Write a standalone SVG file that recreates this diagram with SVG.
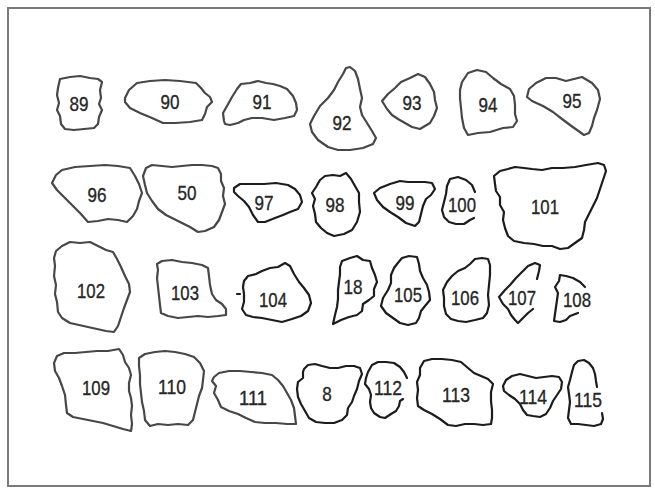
<svg xmlns="http://www.w3.org/2000/svg" width="655" height="489" viewBox="0 0 655 489">
<style>
.g path{fill:none;stroke:#474747;stroke-width:2.2;stroke-linejoin:round;stroke-linecap:round}
.k path{fill:none;stroke:#1c1c1c;stroke-width:2.2;stroke-linejoin:round;stroke-linecap:round}
text{font-family:"Liberation Sans",Arial,sans-serif;font-size:21px;fill:#262626;stroke:#262626;stroke-width:0.35;text-anchor:middle}
</style>
<rect x="8" y="8" width="642" height="478" fill="#fff" stroke="#7a7a7a" stroke-width="2"/>
<g id="s89" class="g"><path d="M60,79 L70,77 L80,76 L90,78 L98,79 L102,82 L100,90 L101,98 L99,104 L102,110 L99,117 L98,124 L94,128 L84,129 L74,130 L65,129 L61,124 L60,116 L57,110 L59,103 L57,95 L58,88 Z"/><text x="79" y="111" textLength="19" lengthAdjust="spacingAndGlyphs">89</text></g>
<g id="s90" class="g"><path d="M125,98 L129,90 L137,83 L150,81 L165,80 L180,81 L196,83 L201,88 L205,93 L210,97 L212,102 L207,107 L205,114 L202,120 L190,122 L175,123 L163,123 L152,118 L140,113 L130,108 L125,102 Z"/><text x="170" y="109" textLength="19" lengthAdjust="spacingAndGlyphs">90</text></g>
<g id="s91" class="g"><path d="M224,121 L223,113 L227,106 L232,97 L237,89 L241,84 L250,83 L258,81 L266,83 L273,84 L280,86 L287,89 L293,96 L296,103 L297,110 L294,116 L285,118 L274,120 L262,118 L252,118 L244,120 L238,123 L230,125 L225,124 Z"/><text x="262" y="109" textLength="19" lengthAdjust="spacingAndGlyphs">91</text></g>
<g id="s92" class="g"><path d="M350,67 L355,71 L358,79 L360,89 L362,98 L360,107 L362,115 L367,123 L372,131 L376,138 L373,144 L363,148 L350,150 L338,150 L328,147 L318,140 L312,132 L310,124 L314,116 L320,106 L328,98 L334,90 L338,82 L343,74 L346,68 Z"/><text x="342" y="130" textLength="19" lengthAdjust="spacingAndGlyphs">92</text></g>
<g id="s93" class="g"><path d="M382,101 L388,94 L395,88 L401,82 L410,78 L418,74 L425,77 L430,84 L434,92 L435,100 L437,108 L434,116 L430,123 L420,129 L412,127 L405,123 L398,119 L392,115 L387,109 Z"/><text x="412" y="110" textLength="19" lengthAdjust="spacingAndGlyphs">93</text></g>
<g id="s94" class="g"><path d="M462,82 L468,73 L477,70 L486,72 L493,78 L501,84 L510,89 L514,96 L515,105 L515,114 L517,121 L513,127 L503,128 L490,132 L478,133 L468,135 L464,128 L462,118 L461,108 L460,98 L460,90 Z"/><text x="488" y="112" textLength="19" lengthAdjust="spacingAndGlyphs">94</text></g>
<g id="s95" class="g"><path d="M527,97 L529,89 L536,83 L546,78 L556,78 L566,81 L574,79 L582,77 L592,83 L598,90 L600,99 L597,110 L594,118 L592,126 L589,133 L584,135 L577,130 L570,125 L562,119 L553,112 L543,106 L532,101 Z"/><text x="572" y="108" textLength="19" lengthAdjust="spacingAndGlyphs">95</text></g>
<g id="s96" class="g"><path d="M52,183 L56,175 L62,170 L75,167 L90,166 L105,165 L118,166 L130,168 L135,176 L139,184 L142,193 L139,201 L137,209 L133,216 L127,222 L118,220 L108,219 L98,221 L88,222 L80,213 L72,205 L64,197 L57,190 Z"/><text x="97" y="202" textLength="19" lengthAdjust="spacingAndGlyphs">96</text></g>
<g id="s50" class="g"><path d="M143,176 L146,168 L152,165 L162,166 L172,167 L182,166 L192,165 L202,165 L212,166 L218,168 L221,174 L221,181 L224,188 L223,196 L225,204 L222,212 L219,220 L214,227 L205,231 L198,232 L190,227 L182,223 L174,219 L166,215 L158,209 L152,201 L147,193 L145,185 Z"/><text x="187" y="200" textLength="19" lengthAdjust="spacingAndGlyphs">50</text></g>
<g id="s97" class="k"><path d="M234,188 L240,184 L252,184 L264,184 L276,183 L288,185 L295,189 L300,195 L302,202 L298,209 L290,212 L283,215 L275,218 L265,222 L258,222 L253,215 L249,207 L244,201 L238,196 L234,192 Z"/><text x="264" y="210" textLength="19" lengthAdjust="spacingAndGlyphs">97</text></g>
<g id="s98" class="k"><path d="M316,187 L320,180 L325,176 L333,175 L340,176 L346,173 L351,179 L355,186 L359,193 L359,202 L360,212 L357,222 L352,230 L344,234 L334,236 L327,233 L321,228 L316,222 L315,214 L313,206 L315,199 L312,193 Z"/><text x="335" y="212" textLength="19" lengthAdjust="spacingAndGlyphs">98</text></g>
<g id="s99" class="k"><path d="M374,193 L380,188 L390,184 L400,181 L408,182 L416,182 L425,182 L432,183 L435,189 L431,195 L426,199 L423,206 L421,214 L419,222 L415,226 L406,223 L398,217 L390,212 L383,207 L377,200 Z"/><text x="405" y="210" textLength="19" lengthAdjust="spacingAndGlyphs">99</text></g>
<g id="s100" class="k"><path d="M475,192 L472,185 L466,180 L458,177 L450,179 L447,186 L446,194 L444,202 L442,210 L444,217 L449,222 L456,224 L464,224 L470,220 L474,218"/><text x="462" y="212" textLength="28" lengthAdjust="spacingAndGlyphs">100</text></g>
<g id="s101" class="k"><path d="M494,176 L500,171 L508,169 L515,167 L524,168 L532,169 L542,170 L552,168 L563,168 L575,167 L586,165 L598,163 L604,165 L606,171 L603,180 L600,189 L597,198 L593,206 L589,214 L585,222 L584,230 L582,238 L575,243 L568,248 L560,249 L552,246 L543,246 L534,244 L524,243 L514,241 L508,236 L505,228 L503,220 L504,212 L500,205 L500,197 L496,191 L495,184 Z"/><text x="545" y="214" textLength="28" lengthAdjust="spacingAndGlyphs">101</text></g>
<g id="s102" class="g"><path d="M56,251 L62,246 L70,242 L80,243 L90,242 L98,246 L106,250 L113,252 L117,259 L121,267 L125,276 L129,284 L130,292 L127,300 L124,308 L121,317 L118,326 L114,332 L106,331 L97,329 L88,327 L79,325 L70,323 L62,318 L58,312 L57,302 L55,294 L56,285 L54,276 L55,266 L54,258 Z"/><text x="91" y="298" textLength="28" lengthAdjust="spacingAndGlyphs">102</text></g>
<g id="s103" class="g"><path d="M157,264 L162,261 L172,260 L182,262 L192,263 L202,265 L208,268 L209,276 L210,285 L212,294 L216,300 L222,304 L226,309 L226,315 L218,316 L208,317 L198,316 L188,317 L178,318 L168,316 L161,313 L160,305 L159,296 L158,287 L157,278 L158,270 Z"/><text x="185" y="300" textLength="28" lengthAdjust="spacingAndGlyphs">103</text></g>
<g id="s104" class="k"><path d="M244,281 L248,276 L256,274 L262,271 L270,268 L278,267 L285,263 L290,266 L294,274 L299,282 L304,288 L309,295 L311,303 L308,311 L301,316 L292,319 L282,322 L272,320 L262,318 L253,317 L246,315 L242,309 L244,302 L244,294 L243,287 Z"/><path d="M237,294 L240,294"/><text x="273" y="307" textLength="28" lengthAdjust="spacingAndGlyphs">104</text></g>
<g id="s18" class="k"><path d="M342,261 L350,258 L357,256 L363,260 L370,261 L372,268 L375,275 L377,282 L374,289 L374,296 L369,300 L363,304 L362,311 L357,315 L349,317 L341,320 L333,324 L335,315 L337,307 L338,299 L338,290 L339,282 L340,274 L340,267 Z"/><text x="353" y="294" textLength="19" lengthAdjust="spacingAndGlyphs">18</text></g>
<g id="s105" class="k"><path d="M397,264 L402,258 L409,256 L417,257 L419,264 L420,271 L423,278 L427,285 L429,292 L430,300 L425,306 L421,311 L419,318 L416,323 L408,325 L400,323 L393,318 L386,313 L381,306 L383,298 L388,290 L391,283 L391,275 L394,268 Z"/><text x="408" y="302" textLength="28" lengthAdjust="spacingAndGlyphs">105</text></g>
<g id="s106" class="k"><path d="M447,282 L452,276 L458,271 L465,268 L470,264 L475,259 L482,258 L488,259 L490,265 L490,275 L489,285 L488,295 L489,305 L487,313 L483,318 L475,320 L466,322 L458,321 L451,319 L446,314 L444,306 L444,298 L443,290 Z"/><text x="465" y="305" textLength="28" lengthAdjust="spacingAndGlyphs">106</text></g>
<g id="s107" class="k"><path d="M537,279 L539,271 L540,265 L535,263 L528,266 L522,272 L516,278 L510,285 L505,290 L499,297 L503,304 L508,309 L511,315 L515,320 L518,323 L523,318 L528,313 L533,309"/><text x="522" y="305" textLength="28" lengthAdjust="spacingAndGlyphs">107</text></g>
<g id="s108" class="k"><path d="M585,287 L580,282 L573,278 L566,276 L560,275 L559,281 L555,287 L558,293 L557,300 L556,307 L555,314 L554,321 L560,322 L566,320 L570,316 L578,313"/><text x="577" y="307" textLength="28" lengthAdjust="spacingAndGlyphs">108</text></g>
<g id="s109" class="g"><path d="M54,363 L57,356 L64,353 L75,353 L86,352 L97,351 L108,351 L119,349 L123,355 L125,362 L129,368 L131,375 L129,383 L129,391 L131,398 L132,406 L131,415 L132,424 L131,431 L123,429 L113,426 L103,423 L93,421 L83,419 L73,417 L67,413 L66,405 L65,395 L62,386 L59,378 L55,371 Z"/><text x="96" y="395" textLength="28" lengthAdjust="spacingAndGlyphs">109</text></g>
<g id="s110" class="g"><path d="M139,358 L145,354 L155,352 L165,351 L175,352 L185,354 L194,357 L200,363 L204,371 L203,380 L202,388 L199,396 L197,404 L195,412 L193,420 L188,425 L178,424 L168,425 L158,424 L150,426 L145,420 L144,411 L142,402 L141,393 L140,384 L140,375 L139,366 Z"/><text x="172" y="394" textLength="28" lengthAdjust="spacingAndGlyphs">110</text></g>
<g id="s111" class="g"><path d="M214,377 L219,373 L229,371 L240,371 L251,372 L262,373 L272,375 L278,380 L283,386 L287,393 L291,400 L294,408 L295,416 L296,424 L287,424 L276,423 L265,423 L255,422 L246,418 L238,414 L229,411 L221,407 L218,400 L214,393 L216,386 L212,381 Z"/><text x="253" y="405" textLength="28" lengthAdjust="spacingAndGlyphs">111</text></g>
<g id="s8" class="k"><path d="M304,369 L308,365 L315,364 L322,366 L330,368 L338,368 L346,366 L354,366 L360,368 L362,374 L359,381 L357,389 L354,396 L352,402 L348,408 L347,415 L342,420 L334,423 L325,423 L316,422 L309,418 L305,411 L301,404 L298,397 L297,389 L298,382 L303,378 L303,372 Z"/><text x="327" y="401" textLength="9.5" lengthAdjust="spacingAndGlyphs">8</text></g>
<g id="s112" class="k"><path d="M407,378 L404,372 L400,367 L394,363 L386,362 L378,362 L372,365 L368,372 L366,378 L365,384 L369,389 L371,395 L370,402 L371,408 L374,413 L380,417 L385,418 L391,414 L396,411 L399,406 L400,401 L403,399"/><text x="388" y="395" textLength="28" lengthAdjust="spacingAndGlyphs">112</text></g>
<g id="s113" class="k"><path d="M420,368 L424,361 L432,359 L442,359 L452,360 L461,362 L468,368 L474,373 L481,376 L488,379 L493,384 L491,392 L491,401 L492,410 L492,418 L491,424 L483,425 L474,424 L465,424 L456,426 L448,425 L440,419 L432,414 L424,410 L418,406 L417,398 L418,390 L417,382 L420,375 Z"/><text x="456" y="402" textLength="28" lengthAdjust="spacingAndGlyphs">113</text></g>
<g id="s114" class="k"><path d="M503,386 L506,380 L512,376 L520,374 L528,376 L536,378 L544,377 L552,376 L559,377 L562,382 L561,389 L557,395 L553,401 L550,408 L546,414 L540,417 L533,416 L527,415 L523,410 L520,404 L515,399 L509,395 L504,391 Z"/><text x="533" y="404" textLength="28" lengthAdjust="spacingAndGlyphs">114</text></g>
<g id="s115" class="k"><path d="M602,413 L603,419 L601,424 L594,426 L586,425 L578,424 L571,424 L568,418 L569,410 L570,402 L569,394 L568,387 L570,380 L572,372 L574,365 L578,361 L584,360 L589,363 L593,368 L595,374 L596,381 L597,387"/><text x="588" y="407" textLength="28" lengthAdjust="spacingAndGlyphs">115</text></g>
</svg>
